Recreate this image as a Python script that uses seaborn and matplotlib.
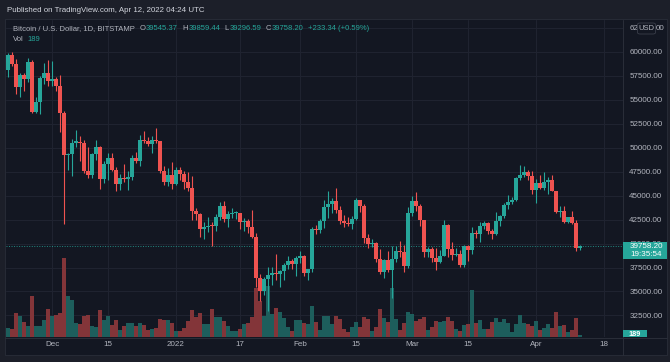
import numpy as np
import pandas as pd
import matplotlib
matplotlib.use("Agg")
import matplotlib.pyplot as plt
from matplotlib.patches import Rectangle, FancyBboxPatch
from matplotlib.text import Annotation
import matplotlib.transforms as mtransforms
import seaborn as sns

# ---------------- data ----------------
first_day = "2021-11-20"
last_day = "2022-04-12"

opens = [58100,59700,58700,56300,57550,57150,58950,53750,54750,57300,57800,
56950,57200,56500,53600,49200,49400,50550,50600,50500,47600,47150,49400,50100,46700,48350,48900,47650,46200,46850,46700,46900,48950,48600,50800,50750,50400,50800,50700,47550,46450,47150,
46200,47700,47300,46450,45850,43450,43100,41550,41700,41850,41800,42750,43900,42600,43100,43150,43200,42250,42400,41700,40700,36450,35050,36300,36700,36950,36850,37150,37750,38150,37900,
38500,38700,36900,37300,41550,41400,42400,43850,44100,44400,43550,42400,42200,42050,42550,44550,43900,40550,40000,40100,38400,37050,38250,37250,38350,39250,39150,37700,
43200,44450,43950,42450,39150,39400,38450,38050,38750,41950,39450,38800,38900,37800,39700,39300,41150,40950,41800,42200,41300,41050,42400,42900,44000,44300,44550,46850,47150,47450,47100,
45550,46300,45850,46450,46650,45500,43250,43450,42300,42750,42150,39545.37]

highs = [59850,60000,59300,57850,57800,59400,59200,55300,57450,58850,59200,
59050,57400,57600,53850,49500,50900,51900,51200,50800,50050,49500,50800,50200,48650,49500,49450,48000,47300,48300,47550,49300,49550,51350,51800,51150,51250,52050,50700,48100,47900,48550,
47950,47950,47550,47500,47050,43750,43150,42300,42800,42250,43100,44350,44450,43450,43750,43450,43200,42650,42600,43500,41100,36850,36500,37550,37550,38900,37250,38000,38700,38350,38700,
39250,38850,37400,41750,41950,42600,44500,45500,44800,45800,43900,43000,42750,42850,44750,44550,44150,40950,40450,40150,39450,38400,39200,39700,39700,40250,39850,43850,
44950,45400,44100,42500,39600,39650,39500,39300,42450,42000,40200,39500,39300,39900,39900,41700,41400,42300,42400,42300,41550,43350,43000,44250,45100,44850,46950,48200,48100,47700,47600,
46700,47200,47450,46900,47150,45500,43900,43950,42800,43450,42450,39859.44]

lows = [57350,58500,55650,55300,55900,56900,53600,53650,53550,56700,56500,
56500,55900,51700,42000,47700,47100,50050,48650,47350,46850,46800,48700,45700,46300,46600,47550,45500,45550,46450,45600,46650,48450,48100,50450,50200,49450,50450,47350,46100,46000,45700,
46150,46650,45700,45500,42500,42450,40650,40500,41250,39700,41300,42500,42300,41750,42650,42600,41550,41300,41100,40600,35500,34000,34650,32950,35700,36250,35500,36150,37300,37350,36650,
38000,36600,36250,37050,40950,41100,41650,42700,43150,43200,42000,41750,41850,41550,42450,43300,40100,39500,39650,38050,36800,36400,37050,34350,38050,38600,37000,37450,
42850,43400,41850,38650,38600,38100,37200,38000,38700,38550,38250,38700,37600,37600,38150,38900,40550,40200,41550,40950,40500,40900,41850,42650,43600,44100,44450,46650,46950,46600,45200,
44250,45650,45550,45150,45450,43150,42750,42150,42150,42000,39250,39296.59]

closes = [59700,58700,56300,57550,57150,58950,53750,54750,57300,57800,56950,
57200,56500,53600,49200,49400,50550,50600,50500,47600,47150,49400,50100,46700,48350,48900,47650,46200,46850,46700,46900,48950,48600,50800,50750,50400,50800,50700,47550,46450,47150,46200,
47700,47300,46450,45850,43450,43100,41550,41700,41850,41800,42750,43900,42600,43100,43150,43200,42250,42400,41700,40700,36450,35050,36300,36700,36950,36850,37150,37750,38150,37900,38500,
38700,36900,37300,41550,41400,42400,43850,44100,44400,43550,42400,42200,42050,42550,44550,43900,40550,40000,40100,38400,37050,38250,37250,38350,39250,39150,37700,43200,
44450,43950,42450,39150,39400,38450,38050,38750,41950,39450,38800,38900,37800,39700,39300,41150,40950,41800,42200,41300,41050,42400,42900,44000,44300,44550,46850,47150,47450,47100,45550,
46300,45850,46450,46650,45500,43250,43450,42300,42750,42150,39550,39758.20]

volumes = [860,760,2280,2000,1430,1050,3900,1050,1050,1620,2660,2000,2090,2280,7510,3900,3520,1330,1240,2000,2090,1050,950,2570,1620,2000,1140,1620,670,1050,1330,1330,1050,1330,1140,670,
760,860,1710,1620,1620,1330,570,570,860,1520,2570,1900,2280,1240,1240,2660,1900,1900,1520,1050,570,570,760,1240,1330,1900,4660,3420,2000,4850,2190,2760,2380,1810,950,570,
1620,1620,1330,1240,2950,1430,670,2000,2000,1240,2000,1710,760,480,950,1430,950,1900,1710,570,950,2660,1810,1430,4660,1710,670,1330,2380,2190,1520,1710,1900,670,950,1520,
1430,1520,1900,1520,760,570,1140,1240,4470,1330,1620,760,760,1430,1810,1430,1710,1330,480,1240,2090,1330,1240,1050,1520,670,860,1240,860,2380,1050,1140,480,670,1810,189]

price_ticks = [32500, 35000, 37500, 40000, 42500, 45000, 47500, 50000, 52500, 55000, 57500, 60000, 62500]
date_tick_dates = ["2021-12-01", "2021-12-15", "2022-01-01", "2022-01-17", "2022-02-01",
                   "2022-02-15", "2022-03-01", "2022-03-15", "2022-04-01", "2022-04-18"]
date_tick_labels = ["Dec", "15", "2022", "17", "Feb", "15", "Mar", "15", "Apr", "18"]

legend_title = "Bitcoin / U.S. Dollar, 1D, BITSTAMP"
legend_ohlc = [("O", "39545.37"), ("H", "39859.44"), ("L", "39296.59"), ("C", "39758.20")]
legend_change = "+233.34 (+0.59%)"
last_price = 39758.20
last_volume = 189
countdown = "19:35:54"

# ---------------- style ----------------
sns.set_theme(style="dark")
plt.rcParams['font.family'] = ['Liberation Sans', 'DejaVu Sans']

OUTER = "#1c1f29"
BG = "#131722"
GRID = "#1f2330"
BORDER = "#2a2e39"
UP = "#26a69a"
DOWN = "#ef5350"
UPV = "#1d5e5c"
DOWNV = "#833539"
TXT = "#b2b5be"
FS = 5.8

W, H = 670, 362
def fx(px): return px / W
def fy(py): return 1 - py / H

fig = plt.figure(figsize=(6.7, 3.62), dpi=100, facecolor=OUTER)

fig.patches.append(Rectangle((fx(5), fy(355)), fx(667) - fx(5), fy(19) - fy(355),
                             transform=fig.transFigure, facecolor=BG, edgecolor=BORDER,
                             linewidth=0.6, zorder=0))

rect = [fx(6), fy(337), fx(623) - fx(6), fy(20) - fy(337)]
axv = fig.add_axes(rect)
ax = fig.add_axes(rect, sharex=axv)
axv.set_zorder(1)
ax.set_zorder(2)
ax.patch.set_visible(False)
axv.set_facecolor(BG)

start = pd.Timestamp(first_day)
dates = pd.date_range(first_day, last_day, freq="D")
idx = np.array([(d - start).days for d in dates])
o = np.array(opens); c = np.array(closes); h = np.array(highs); l = np.array(lows)
up = c >= o

# volume (seaborn)
vdf = pd.DataFrame({"i": idx, "vol": volumes, "dir": np.where(up, "up", "down")})
sns.barplot(data=vdf, x="i", y="vol", hue="dir", palette={"up": UPV, "down": DOWNV},
            native_scale=True, dodge=False, width=0.78, errorbar=None, legend=False,
            saturation=1, linewidth=0, ax=axv)
axv.set_ylim(0, 317 * 95)

# grid
tick_pos = [(pd.Timestamp(d) - start).days for d in date_tick_dates]
for t in tick_pos:
    axv.axvline(t, color=GRID, lw=0.8, zorder=0)
blend = mtransforms.blended_transform_factory(axv.transAxes, ax.transData)
for p in price_ticks:
    axv.plot([0, 1], [p, p], transform=blend, color=GRID, lw=0.8, zorder=0)

# candles
cols = np.where(up, UP, DOWN)
ax.vlines(idx, l, h, colors=cols, lw=0.8, zorder=3)
bottoms = np.minimum(o, c)
heights = np.maximum(np.abs(c - o), 110)
ax.bar(idx, heights, bottom=bottoms, width=0.8, color=cols, linewidth=0, zorder=4)

ax.axhline(last_price, color=UP, lw=0.7, ls=(0, (1, 1.6)), alpha=0.8, zorder=2)

ax.set_xlim(-0.5, 153.75)
ax.set_ylim(30250, 63340)

# price labels; the top one is partly hidden by the USD badge
ax.yaxis.tick_right()
ax.set_yticks(price_ticks)
ax.set_yticklabels([f"{p:.2f}" if p != price_ticks[-1] else "" for p in price_ticks])
ax.set_xticks(tick_pos)
ax.set_xticklabels(date_tick_labels)
ax.tick_params(axis="y", length=0, pad=4.5, labelsize=FS, colors=TXT)
ax.tick_params(axis="x", length=0, pad=3.2, labelsize=FS, colors=TXT)
axv.tick_params(left=False, right=False, bottom=False, labelleft=False, labelbottom=False)
axv.set_xlabel(""); axv.set_ylabel("")
ax.set_xlabel(""); ax.set_ylabel("")
for a in (ax, axv):
    for s in a.spines.values():
        s.set_visible(False)
    a.grid(False)

top_label = f"{price_ticks[-1]:.2f}"
ytop = ax.transData.transform((0, price_ticks[-1]))[1]
ytop_fig = fig.transFigure.inverted().transform((0, ytop))[1]
fig.text(fx(629.5), ytop_fig, top_label[:2], color=TXT, fontsize=FS, va="center", ha="left")
fig.text(fx(665), ytop_fig, top_label[-2:], color=TXT, fontsize=FS, va="center", ha="right")

fig.add_artist(plt.Line2D([fx(623), fx(623)], [fy(20), fy(355)], transform=fig.transFigure, color=BORDER, lw=0.7))
fig.add_artist(plt.Line2D([fx(5), fx(667)], [fy(337.5), fy(337.5)], transform=fig.transFigure, color=BORDER, lw=0.7))

# header
fig.text(fx(7), fy(10.5), "Published on TradingView.com, Apr 12, 2022 04:24 UTC",
         color="#d1d4dc", fontsize=5.7, va="center", ha="left")

# legend line, laid out sequentially
LFS = 5.5
def chain(prev, s, color, gap):
    a = Annotation(s, xy=(1, 0.5), xycoords=prev, xytext=(gap, 0), textcoords="offset points",
                   va="center", ha="left", color=color, fontsize=LFS)
    fig.add_artist(a)
    return a

t0 = fig.text(fx(13), fy(29), legend_title, color=TXT, fontsize=LFS, va="center")
prev = t0
for letter, val in legend_ohlc:
    prev = chain(prev, letter, TXT, 3.2)
    prev = chain(prev, val, UP, 0.4)
prev = chain(prev, legend_change, UP, 3.2)
tv = fig.text(fx(13), fy(39.5), "Vol", color=TXT, fontsize=LFS, va="center")
chain(tv, str(last_volume), UP, 3.0)

# USD badge
fig.patches.append(FancyBboxPatch((fx(637.5), fy(34)), fx(655.5) - fx(637.5), fy(23) - fy(34),
                                  boxstyle="round,pad=0,rounding_size=0.004",
                                  transform=fig.transFigure, facecolor=BG, edgecolor="#3a3e4a",
                                  linewidth=0.6, zorder=5))
fig.text(fx(646.5), fy(28.5), "USD", color=TXT, fontsize=LFS, ha="center", va="center", zorder=6)

# last price label
fig.patches.append(Rectangle((fx(623), fy(259)), fx(667) - fx(623), fy(241.5) - fy(259),
                             transform=fig.transFigure, facecolor=UP, edgecolor="none", zorder=5))
fig.text(fx(630), fy(246), f"{last_price:.2f}", color="white", fontsize=FS, va="center", zorder=6)
fig.text(fx(630), fy(254.5), countdown, color="white", fontsize=FS, va="center", zorder=6)

# volume label
vrect = Rectangle((fx(623), fy(337)), fx(647) - fx(623), fy(329.5) - fy(337),
                  transform=fig.transFigure, facecolor=UP, edgecolor="none", zorder=5)
fig.patches.append(vrect)
vt = fig.text(fx(635), fy(334), str(last_volume), color="white", fontsize=FS * 0.9,
              ha="center", va="center", zorder=6, fontweight="bold")
vt.set_clip_path(vrect)

fig.savefig("out.png", dpi=100, facecolor=OUTER)
